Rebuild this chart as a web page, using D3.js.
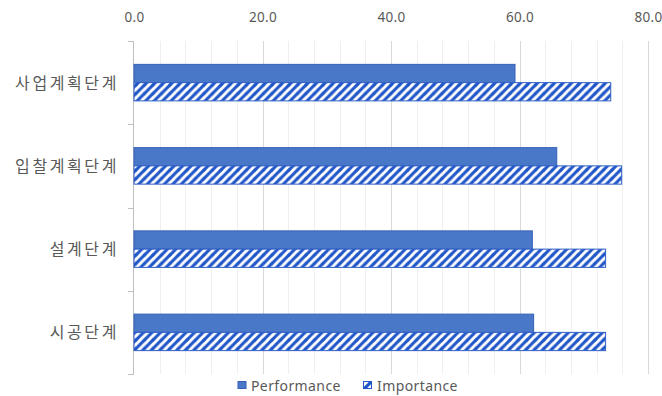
<!DOCTYPE html>
<html>
<head>
<meta charset="utf-8">
<script src="https://cdn.jsdelivr.net/npm/d3@7"></script>
<style>
  html, body { margin: 0; padding: 0; background: #fff; }
  svg { display: block; }
  text { font-family: "Noto Sans CJK KR", "Noto Sans", sans-serif; fill: #595959; }
</style>
</head>
<body>
<svg id="chart" width="662" height="396"></svg>
<script>
// Stages of the project and the two survey scores per stage
const categories = ["사업계획단계", "입찰계획단계", "설계단계", "시공단계"];
const seriesNames = ["Performance", "Importance"];
const performance = [59.3, 65.8, 62.0, 62.2];
const importance = [74.2, 75.9, 73.4, 73.4];
const xTicks = [0, 20, 40, 60, 80];
const minorStep = 4;

const svg = d3.select("#chart");
const plot = { left: 134, right: 648, top: 41, bottom: 374 };

const x = d3.scaleLinear().domain([0, 80]).range([plot.left, plot.right]);
const y = d3.scaleBand().domain(categories).range([plot.top, plot.bottom]).paddingInner(0).paddingOuter(0);
const ySub = d3.scaleBand().domain(seriesNames).range([0, y.bandwidth()])
  .paddingInner(0).paddingOuter(1.28);

// Hatch pattern for the Importance bars (wide upward diagonal)
const defs = svg.append("defs");
const pat = defs.append("pattern")
  .attr("id", "hatch").attr("patternUnits", "userSpaceOnUse")
  .attr("width", 8.5).attr("height", 8.5);
pat.append("rect").attr("width", 8.5).attr("height", 8.5).attr("fill", "#fff");
pat.append("path")
  .attr("d", "M-2,2.125 L2.125,-2 M0,8.5 L8.5,0 M6.375,10.5 L10.5,6.375")
  .attr("stroke", "#2156c8").attr("stroke-width", 3.1);

const legendPat = defs.append("pattern")
  .attr("id", "hatchSmall").attr("patternUnits", "userSpaceOnUse")
  .attr("width", 9).attr("height", 9).attr("x", 363).attr("y", 381);
legendPat.append("rect").attr("width", 9).attr("height", 9).attr("fill", "#fff");
legendPat.append("path").attr("d", "M0,9 L9,0").attr("stroke", "#2156c8").attr("stroke-width", 3.2);

// Minor gridlines
const minorVals = d3.range(0, 80 + 0.001, minorStep).filter(v => v % 20 !== 0);
svg.append("g").selectAll("line").data(minorVals).join("line")
  .attr("x1", d => Math.round(x(d)) + 0.5).attr("x2", d => Math.round(x(d)) + 0.5)
  .attr("y1", plot.top).attr("y2", plot.bottom)
  .attr("stroke", "#efefef").attr("stroke-width", 1);

// Major gridlines
svg.append("g").selectAll("line").data(xTicks.filter(v => v > 0)).join("line")
  .attr("x1", d => Math.round(x(d)) + 0.5).attr("x2", d => Math.round(x(d)) + 0.5)
  .attr("y1", plot.top).attr("y2", plot.bottom)
  .attr("stroke", "#d9d9d9").attr("stroke-width", 1);

// Top value axis labels
const xAxis = d3.axisTop(x).tickValues(xTicks).tickFormat(d3.format(".1f")).tickSize(0).tickPadding(0);
const gx = svg.append("g").attr("transform", "translate(0,22)").call(xAxis);
gx.select(".domain").remove();
gx.selectAll("text").attr("font-size", 13.5).attr("fill", "#595959")
  .style("font-family", '"Noto Sans", sans-serif').style("letter-spacing", "0.3px");

// Category axis with outside ticks at band boundaries
const gy = svg.append("g");
gy.append("line")
  .attr("x1", plot.left - 0.5).attr("x2", plot.left - 0.5)
  .attr("y1", plot.top).attr("y2", plot.bottom)
  .attr("stroke", "#bfbfbf");
const boundaries = categories.map(c => y(c)).concat([plot.bottom]);
gy.selectAll("line.tk").data(boundaries).join("line").attr("class", "tk")
  .attr("x1", plot.left - 6).attr("x2", plot.left)
  .attr("y1", d => Math.round(d) + 0.5).attr("y2", d => Math.round(d) + 0.5)
  .attr("stroke", "#bfbfbf");
gy.selectAll("text").data(categories).join("text")
  .attr("x", 119)
  .attr("y", d => y(d) + y.bandwidth() / 2 - 1)
  .attr("text-anchor", "end").attr("dominant-baseline", "central")
  .attr("font-size", 16).style("letter-spacing", "2.6px").text(d => d);

// Bars
const rows = categories.map((c, i) => ({ cat: c, Performance: performance[i], Importance: importance[i] }));
const bars = svg.append("g");
rows.forEach(r => {
  bars.append("rect")
    .attr("x", x(0)).attr("y", y(r.cat) + ySub("Performance"))
    .attr("width", x(r.Performance) - x(0)).attr("height", ySub.bandwidth())
    .attr("fill", "#4a78c8").attr("stroke", "#3561b8").attr("stroke-width", 1);
  bars.append("rect")
    .attr("x", x(0)).attr("y", y(r.cat) + ySub("Importance"))
    .attr("width", x(r.Importance) - x(0)).attr("height", ySub.bandwidth())
    .attr("fill", "url(#hatch)").attr("stroke", "#2f5fc6").attr("stroke-width", 1);
});

// Legend
const lg = svg.append("g");
lg.append("rect").attr("x", 238).attr("y", 381.5).attr("width", 8).attr("height", 7)
  .attr("fill", "#4a78c8").attr("stroke", "#3561b8");
lg.append("text").attr("x", 251).attr("y", 385).attr("dominant-baseline", "central")
  .attr("font-size", 14).style("letter-spacing", "0.4px")
  .style("font-family", '"Noto Sans", sans-serif').text(seriesNames[0]);
lg.append("rect").attr("x", 363.5).attr("y", 381.5).attr("width", 8).attr("height", 7)
  .attr("fill", "url(#hatchSmall)").attr("stroke", "#2156c8");
lg.append("text").attr("x", 377).attr("y", 385).attr("dominant-baseline", "central")
  .attr("font-size", 14).style("letter-spacing", "0.4px")
  .style("font-family", '"Noto Sans", sans-serif').text(seriesNames[1]);
</script>
</body>
</html>
